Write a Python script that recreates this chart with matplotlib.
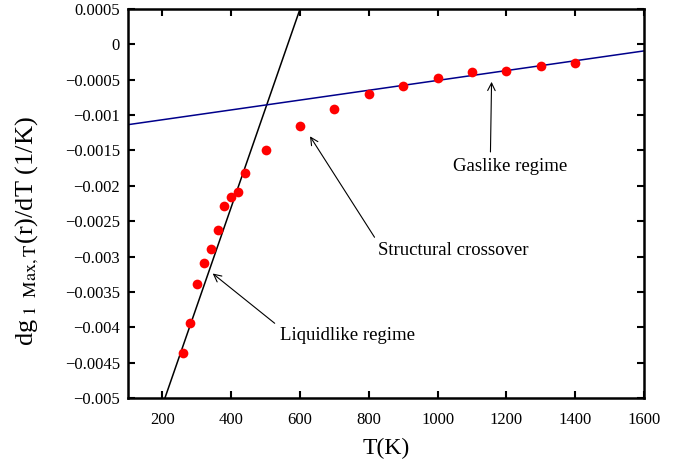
import numpy as np
import matplotlib
matplotlib.use("Agg")
import matplotlib.pyplot as plt
from matplotlib.ticker import MultipleLocator, FuncFormatter

plt.rcParams['font.family'] = ['Liberation Serif', 'DejaVu Serif']
plt.rcParams['mathtext.fontset'] = 'stix'

# data
temp = [260, 280, 300, 320, 340, 360, 380, 400, 420, 440,
        500, 600, 700, 800, 900, 1000, 1100, 1200, 1300, 1400]
dg = [-0.00437, -0.00394, -0.00339, -0.00309, -0.00289, -0.00262, -0.00229,
      -0.00216, -0.00209, -0.00182, -0.00149, -0.00115, -0.00091, -0.00070,
      -0.00059, -0.00048, -0.00039, -0.00037, -0.00031, -0.00027]

# linear fits (slope, intercept)
liquid_fit = (1.4e-5, -0.0079)
gas_fit = (6.95e-7, -0.001205)

t_line = np.array([100, 1600])

fig = plt.figure(figsize=(6.85, 4.63), dpi=100)
ax = fig.add_axes([0.187, 0.1404, 0.753, 0.8402])

ax.plot(t_line, liquid_fit[0] * t_line + liquid_fit[1], color='black', lw=1.1)
ax.plot(t_line, gas_fit[0] * t_line + gas_fit[1], color='#00008b', lw=1.1)
ax.plot(temp, dg, 'o', color='red', ms=7, mec='none')

ax.set_xlim(100, 1600)
ax.set_ylim(-0.005, 0.0005)
ax.xaxis.set_major_locator(MultipleLocator(200))
ax.yaxis.set_major_locator(MultipleLocator(0.0005))


def fmt(v, pos):
    return ('%g' % (round(v, 6) + 0.0)).replace('-', '\u2212')


ax.yaxis.set_major_formatter(FuncFormatter(fmt))
ax.tick_params(direction='in', length=5, width=1.5, top=True, right=True,
               labelsize=12)
ax.tick_params(axis='x', pad=10)
ax.tick_params(axis='y', pad=6)
for sp in ax.spines.values():
    sp.set_linewidth(1.8)

ax.set_xlabel('T(K)', fontsize=17, labelpad=7)
ax.set_ylabel(r'dg$_{\;\mathrm{1\ \ Max,T}}$(r)/dT (1/K)', fontsize=19)
ax.yaxis.set_label_coords(-0.168, 0.43)

ax.annotate('Gaslike regime', xy=(1157, -0.00053), xytext=(1210, -0.00172),
            ha='center', va='center', fontsize=13.5,
            arrowprops=dict(arrowstyle='->', color='black', lw=0.8,
                            relpos=(0.33, 1.0), shrinkB=0))
ax.annotate('Structural crossover', xy=(629, -0.0013), xytext=(1045, -0.00292),
            ha='center', va='center', fontsize=13.5,
            arrowprops=dict(arrowstyle='->', color='black', lw=0.8,
                            relpos=(0.0, 1.0), shrinkB=0))
ax.annotate('Liquidlike regime', xy=(346, -0.00324), xytext=(737, -0.00412),
            ha='center', va='center', fontsize=13.5,
            arrowprops=dict(arrowstyle='->', color='black', lw=0.8,
                            relpos=(0.0, 1.0), shrinkB=0))

fig.savefig('out.png', dpi=100)
